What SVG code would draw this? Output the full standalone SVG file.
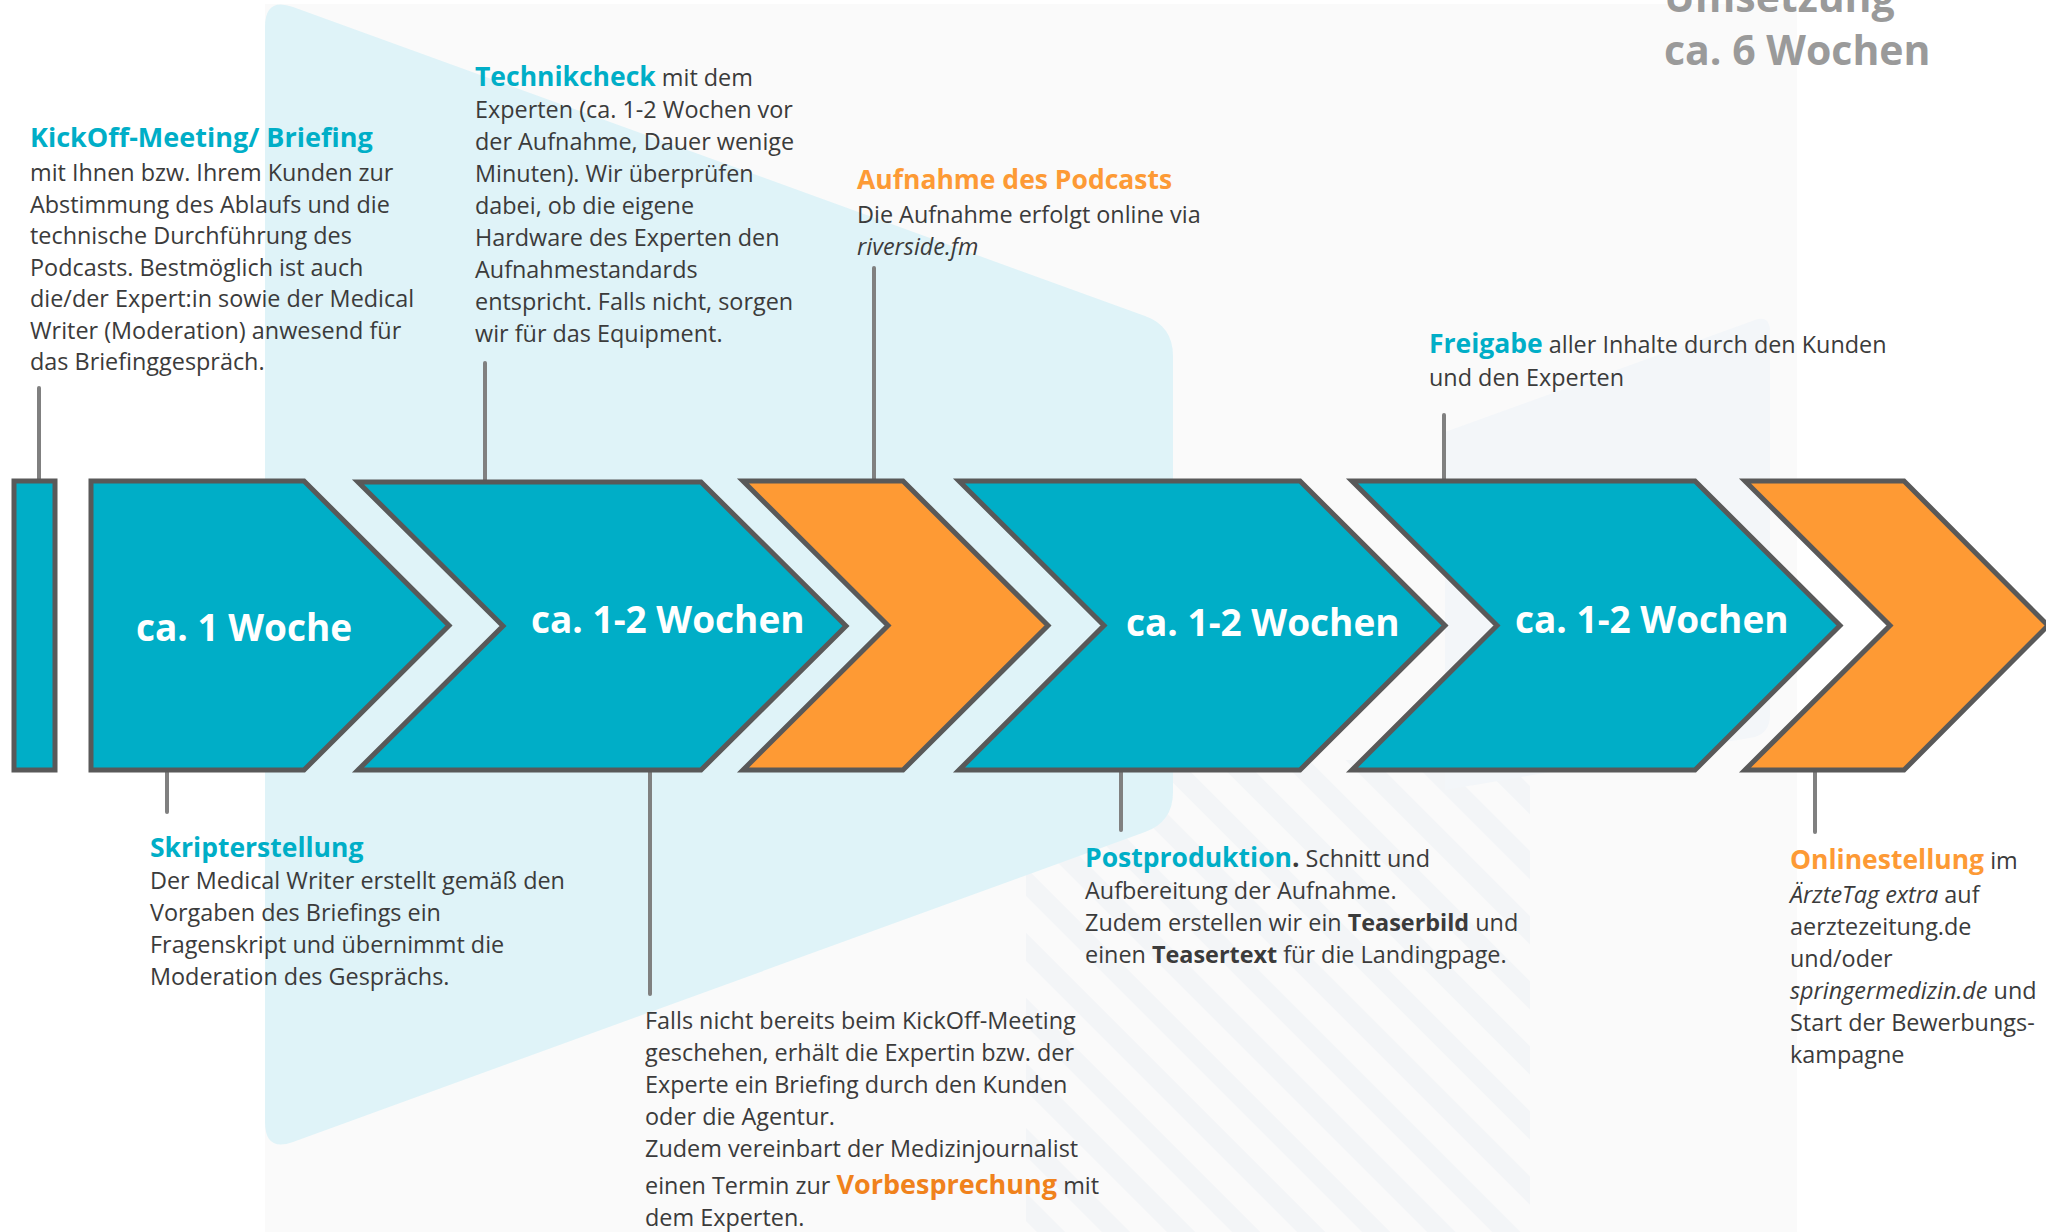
<svg xmlns="http://www.w3.org/2000/svg" width="2046" height="1232" viewBox="0 0 2046 1232">
<style>
  text { font-family: "Open Sans", "Liberation Sans", sans-serif; }
  .body { font-size: 23.4px; fill: #3b3b3b; }
  .tt { font-weight: 700; font-size: 26.5px; fill: #00AEC7; }
  .to { font-weight: 700; font-size: 26.5px; fill: #FD9A35; }
  .b { font-weight: 700; }
  .i { font-style: italic; }
  .lbl { font-weight: 700; font-size: 37px; fill: #ffffff; }
  .big { font-weight: 700; font-size: 41px; fill: #9a9a9a; }
  .teal { fill: #00AEC7; stroke: #595959; stroke-width: 5; stroke-linejoin: miter; }
  .orange { fill: #FE9A34; stroke: #595959; stroke-width: 5; stroke-linejoin: miter; }
  .conn { stroke: #808080; stroke-width: 4; stroke-linecap: round; fill: none; }
</style>
<defs>
  <pattern id="stripes" width="46" height="46" patternUnits="userSpaceOnUse" patternTransform="rotate(-45)">
    <rect x="0" y="0" width="20" height="46" fill="#F3F5F7"/>
  </pattern>
</defs>

<!-- background -->
<rect x="0" y="0" width="2046" height="1232" fill="#ffffff"/>
<rect x="265" y="4" width="1532" height="1228" fill="#FAFAFA"/>
<rect x="1026" y="760" width="504" height="472" fill="url(#stripes)"/>
<path d="M1445,432 L1755,320 Q1770,315 1770,332 L1770,715 Q1770,732 1755,737 L1445,790 Z" fill="#F3F6F9"/>
<path d="M293,7 L1145,316 Q1173,326 1173,356 L1173,792 Q1173,822 1145,832 L293,1142 Q265,1152 265,1122 L265,27 Q265,-3 293,7 Z" fill="#DFF3F8"/>

<!-- headline -->
<text class="big" x="1664" y="12">Umsetzung</text>
<text class="big" x="1664" y="65">ca. 6 Wochen</text>

<!-- connectors -->
<g id="connectors">
  <line class="conn" x1="39" y1="388" x2="39" y2="480"/>
  <line class="conn" x1="485" y1="363" x2="485" y2="482"/>
  <line class="conn" x1="874" y1="268" x2="874" y2="480"/>
  <line class="conn" x1="1444" y1="415" x2="1444" y2="480"/>
  <line class="conn" x1="167" y1="770" x2="167" y2="812"/>
  <line class="conn" x1="650" y1="770" x2="650" y2="994"/>
  <line class="conn" x1="1121" y1="770" x2="1121" y2="830"/>
  <line class="conn" x1="1815" y1="770" x2="1815" y2="832"/>
</g>

<!-- chevrons -->
<g id="start-bar"><rect class="teal" x="14" y="481" width="41" height="289"/></g>
<g id="phase1">
  <path class="teal" d="M91,481 L304,481 L449,625.5 L304,770 L91,770 Z"/>
  <text class="lbl" x="136" y="641">ca. 1 Woche</text>
</g>
<g id="phase2">
  <path class="teal" d="M358,482 L701,482 L846,626 L701,770 L358,770 L503,626 Z"/>
  <text class="lbl" x="531" y="633">ca. 1-2 Wochen</text>
</g>
<g id="phase3">
  <path class="orange" d="M743,481 L903,481 L1048,625.5 L903,770 L743,770 L888,625.5 Z"/>
</g>
<g id="phase4">
  <path class="teal" d="M959,481 L1300,481 L1445,625.5 L1300,770 L959,770 L1104,625.5 Z"/>
  <text class="lbl" x="1126" y="636">ca. 1-2 Wochen</text>
</g>
<g id="phase5">
  <path class="teal" d="M1352,481 L1695,481 L1840,625.5 L1695,770 L1352,770 L1497,625.5 Z"/>
  <text class="lbl" x="1515" y="633">ca. 1-2 Wochen</text>
</g>
<g id="phase6">
  <path class="orange" d="M1745,481 L1904,481 L2048,625.5 L1904,770 L1745,770 L1890,625.5 Z"/>
</g>

<!-- annotations -->
<g id="kickoff">
  <text class="tt" x="30" y="147" style="font-size:27px">KickOff-Meeting/ Briefing</text>
  <text class="body" x="30" y="181">mit Ihnen bzw. Ihrem Kunden zur</text>
  <text class="body" x="30" y="212.5">Abstimmung des Ablaufs und die</text>
  <text class="body" x="30" y="244">technische Durchführung des</text>
  <text class="body" x="30" y="275.5">Podcasts. Bestmöglich ist auch</text>
  <text class="body" x="30" y="307">die/der Expert:in sowie der Medical</text>
  <text class="body" x="30" y="338.5">Writer (Moderation) anwesend für</text>
  <text class="body" x="30" y="370">das Briefinggespräch.</text>
</g>
<g id="technikcheck">
  <text class="body" x="475" y="86"><tspan class="tt">Technikcheck</tspan> mit dem</text>
  <text class="body" x="475" y="118">Experten (ca. 1-2 Wochen vor</text>
  <text class="body" x="475" y="150">der Aufnahme, Dauer wenige</text>
  <text class="body" x="475" y="182">Minuten). Wir überprüfen</text>
  <text class="body" x="475" y="214">dabei, ob die eigene</text>
  <text class="body" x="475" y="246">Hardware des Experten den</text>
  <text class="body" x="475" y="278">Aufnahmestandards</text>
  <text class="body" x="475" y="310">entspricht. Falls nicht, sorgen</text>
  <text class="body" x="475" y="342">wir für das Equipment.</text>
</g>
<g id="aufnahme">
  <text class="to" x="857" y="189">Aufnahme des Podcasts</text>
  <text class="body" x="857" y="223">Die Aufnahme erfolgt online via</text>
  <text class="body i" x="857" y="255">riverside.fm</text>
</g>
<g id="freigabe">
  <text class="body" x="1429" y="353"><tspan class="tt">Freigabe</tspan> aller Inhalte durch den Kunden</text>
  <text class="body" x="1429" y="386">und den Experten</text>
</g>
<g id="skript">
  <text class="tt" x="150" y="857">Skripterstellung</text>
  <text class="body" x="150" y="889">Der Medical Writer erstellt gemäß den</text>
  <text class="body" x="150" y="921">Vorgaben des Briefings ein</text>
  <text class="body" x="150" y="953">Fragenskript und übernimmt die</text>
  <text class="body" x="150" y="985">Moderation des Gesprächs.</text>
</g>
<g id="vorbesprechung">
  <text class="body" x="645" y="1029">Falls nicht bereits beim KickOff-Meeting</text>
  <text class="body" x="645" y="1061">geschehen, erhält die Expertin bzw. der</text>
  <text class="body" x="645" y="1093">Experte ein Briefing durch den Kunden</text>
  <text class="body" x="645" y="1125">oder die Agentur.</text>
  <text class="body" x="645" y="1157">Zudem vereinbart der Medizinjournalist</text>
  <text class="body" x="645" y="1194">einen Termin zur <tspan class="b" style="font-size:27px;fill:#F0821C">Vorbesprechung</tspan> mit</text>
  <text class="body" x="645" y="1226">dem Experten.</text>
</g>
<g id="postproduktion">
  <text class="body" x="1085" y="867"><tspan class="tt">Postproduktion</tspan><tspan class="b" style="font-size:26.5px">.</tspan> Schnitt und</text>
  <text class="body" x="1085" y="899">Aufbereitung der Aufnahme.</text>
  <text class="body" x="1085" y="931">Zudem erstellen wir ein <tspan class="b">Teaserbild</tspan> und</text>
  <text class="body" x="1085" y="963">einen <tspan class="b">Teasertext</tspan> für die Landingpage.</text>
</g>
<g id="onlinestellung">
  <text class="body" x="1790" y="869"><tspan class="to">Onlinestellung</tspan> im</text>
  <text class="body" x="1790" y="903"><tspan class="i">ÄrzteTag extra</tspan> auf</text>
  <text class="body" x="1790" y="935">aerztezeitung.de</text>
  <text class="body" x="1790" y="967">und/oder</text>
  <text class="body" x="1790" y="999"><tspan class="i">springermedizin.de</tspan> und</text>
  <text class="body" x="1790" y="1031">Start der Bewerbungs-</text>
  <text class="body" x="1790" y="1063">kampagne</text>
</g>
</svg>
